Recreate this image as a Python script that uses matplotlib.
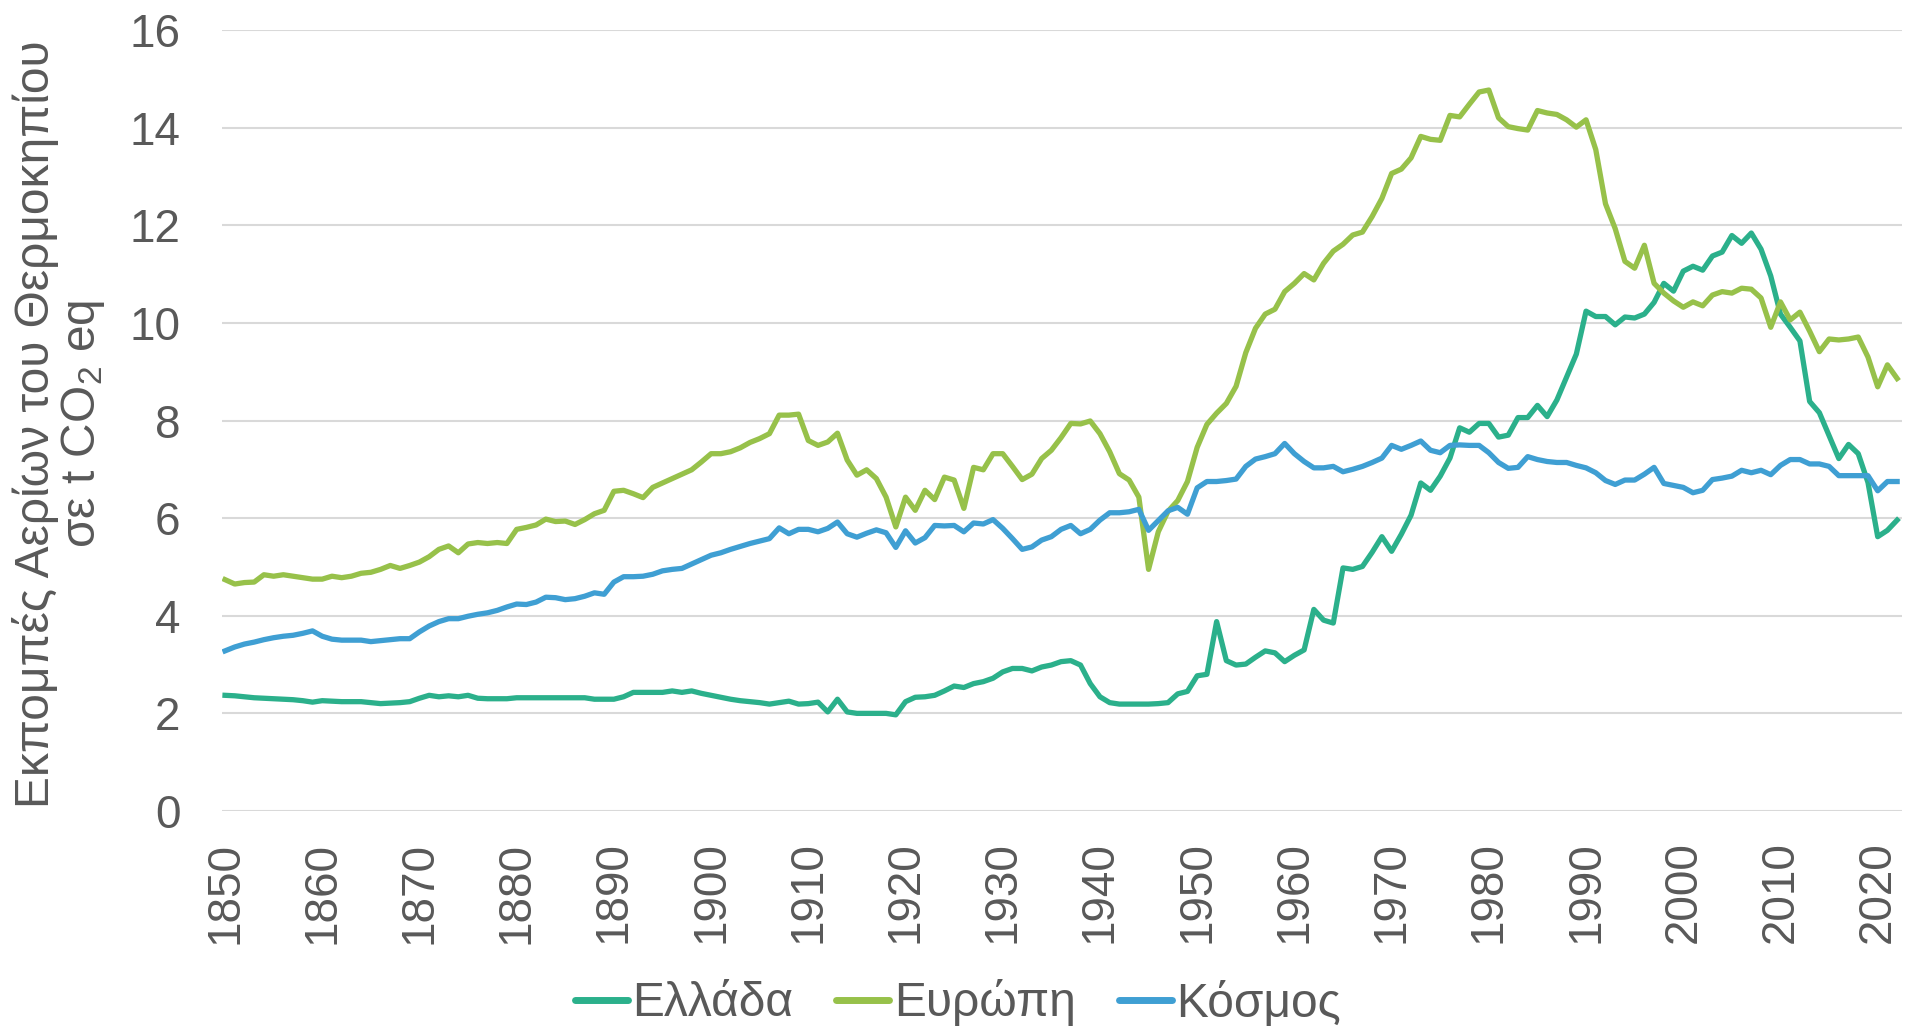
import matplotlib
matplotlib.use("Agg")
import matplotlib.pyplot as plt
import matplotlib.font_manager as fm
import numpy as np

### data (t CO2 eq per capita)
years = np.arange(1850, 2023)

greece = [
    2.37, 2.36, 2.34, 2.32, 2.31, 2.30, 2.29, 2.28, 2.26, 2.23,
    2.26, 2.25, 2.24, 2.24, 2.24, 2.22, 2.20, 2.21, 2.22, 2.24,
    2.31, 2.37, 2.34, 2.36, 2.34, 2.37, 2.31, 2.30, 2.30, 2.30,
    2.32, 2.32, 2.32, 2.32, 2.32, 2.32, 2.32, 2.32, 2.29, 2.29,
    2.29, 2.34, 2.43, 2.43, 2.43, 2.43, 2.46, 2.43, 2.46, 2.41,
    2.37, 2.33, 2.29, 2.26, 2.24, 2.22, 2.19, 2.22, 2.25, 2.19,
    2.20, 2.23, 2.03, 2.29, 2.03, 2.00, 2.00, 2.00, 2.00, 1.97,
    2.24, 2.33, 2.34, 2.37, 2.46, 2.56, 2.53, 2.61, 2.65, 2.72,
    2.85, 2.92, 2.92, 2.87, 2.95, 2.99, 3.06, 3.08, 2.99, 2.61,
    2.34, 2.22, 2.19, 2.19, 2.19, 2.19, 2.20, 2.22, 2.40, 2.45,
    2.77, 2.80, 3.88, 3.08, 2.99, 3.01, 3.15, 3.28, 3.24, 3.06,
    3.19, 3.30, 4.13, 3.91, 3.85, 4.98, 4.95, 5.01, 5.30, 5.62,
    5.32, 5.67, 6.06, 6.72, 6.57, 6.86, 7.23, 7.85, 7.76, 7.94,
    7.94, 7.66, 7.70, 8.06, 8.06, 8.31, 8.08, 8.42, 8.89, 9.36,
    10.24, 10.13, 10.13, 9.96, 10.12, 10.10, 10.18, 10.42, 10.81, 10.65,
    11.06, 11.16, 11.08, 11.37, 11.45, 11.79, 11.63, 11.84, 11.51, 10.96,
    10.18, 9.91, 9.63, 8.39, 8.16, 7.69, 7.22, 7.51, 7.32, 6.73,
    5.62, 5.75, 5.96,
]

europe = [
    4.74, 4.65, 4.68, 4.69, 4.84, 4.81, 4.84, 4.81, 4.78, 4.75,
    4.75, 4.81, 4.78, 4.81, 4.87, 4.89, 4.95, 5.03, 4.97, 5.03,
    5.10, 5.21, 5.36, 5.43, 5.29, 5.47, 5.50, 5.48, 5.50, 5.48,
    5.77, 5.81, 5.86, 5.98, 5.93, 5.94, 5.87, 5.97, 6.09, 6.16,
    6.55, 6.57, 6.50, 6.42, 6.63, 6.72, 6.81, 6.90, 6.99, 7.15,
    7.32, 7.32, 7.36, 7.44, 7.55, 7.63, 7.73, 8.11, 8.11, 8.13,
    7.59, 7.49, 7.56, 7.74, 7.19, 6.88, 6.99, 6.81, 6.43, 5.82,
    6.43, 6.16, 6.57, 6.38, 6.84, 6.78, 6.20, 7.04, 6.99, 7.32,
    7.32, 7.06, 6.79, 6.90, 7.22, 7.39, 7.65, 7.94, 7.93, 7.99,
    7.73, 7.36, 6.91, 6.78, 6.43, 4.95, 5.72, 6.14, 6.36, 6.75,
    7.45, 7.92, 8.15, 8.35, 8.70, 9.39, 9.89, 10.18, 10.28, 10.64,
    10.81, 11.01, 10.88, 11.22, 11.47, 11.61, 11.80, 11.86, 12.18, 12.55,
    13.06, 13.15, 13.38, 13.82, 13.76, 13.74, 14.25, 14.22, 14.48, 14.73,
    14.77, 14.20, 14.02, 13.98, 13.95, 14.35, 14.30, 14.27, 14.16, 14.01,
    14.16, 13.55, 12.44, 11.93, 11.26, 11.12, 11.59, 10.81, 10.61, 10.45,
    10.32, 10.43, 10.35, 10.57, 10.64, 10.61, 10.71, 10.69, 10.51, 9.91,
    10.43, 10.06, 10.22, 9.83, 9.41, 9.67, 9.65, 9.67, 9.71, 9.30,
    8.69, 9.14, 8.86,
]

world = [
    3.28, 3.36, 3.42, 3.46, 3.51, 3.55, 3.58, 3.60, 3.64, 3.69,
    3.58, 3.52, 3.50, 3.50, 3.50, 3.47, 3.49, 3.51, 3.53, 3.53,
    3.67, 3.79, 3.88, 3.94, 3.94, 3.99, 4.03, 4.06, 4.11, 4.18,
    4.24, 4.23, 4.28, 4.38, 4.37, 4.33, 4.35, 4.40, 4.47, 4.44,
    4.69, 4.80, 4.80, 4.81, 4.85, 4.92, 4.95, 4.97, 5.06, 5.15,
    5.24, 5.29, 5.36, 5.42, 5.48, 5.53, 5.58, 5.80, 5.68, 5.77,
    5.77, 5.72, 5.79, 5.92, 5.68, 5.61, 5.69, 5.76, 5.70, 5.40,
    5.74, 5.49, 5.60, 5.85, 5.84, 5.85, 5.72, 5.90, 5.88, 5.97,
    5.79, 5.58, 5.36, 5.41, 5.55, 5.62, 5.77, 5.85, 5.68, 5.77,
    5.96, 6.11, 6.11, 6.13, 6.18, 5.75, 5.95, 6.15, 6.22, 6.08,
    6.62, 6.75, 6.75, 6.77, 6.80, 7.06, 7.21, 7.26, 7.32, 7.53,
    7.32, 7.16, 7.03, 7.03, 7.06, 6.95, 7.00, 7.06, 7.14, 7.23,
    7.49, 7.41, 7.49, 7.58, 7.39, 7.34, 7.49, 7.50, 7.49, 7.49,
    7.34, 7.14, 7.02, 7.04, 7.26, 7.20, 7.16, 7.14, 7.14, 7.08,
    7.03, 6.93, 6.77, 6.69, 6.78, 6.78, 6.90, 7.04, 6.71, 6.67,
    6.63, 6.52, 6.57, 6.79, 6.82, 6.86, 6.98, 6.93, 6.98, 6.89,
    7.08, 7.20, 7.20, 7.11, 7.11, 7.06, 6.87, 6.87, 6.87, 6.87,
    6.56, 6.75, 6.75,
]

labels = ["Ελλάδα", "Ευρώπη", "Κόσμος"]
colors = ["#2BB08B", "#97C14A", "#3F9FD3"]
ylabel = "Εκπομπές Αερίων του Θερμοκηπίου\nσε t CO$_2$ eq"

### fonts
names = {f.name for f in fm.fontManager.ttflist}
narrow = "Liberation Sans Narrow" if "Liberation Sans Narrow" in names else "Liberation Sans"
txt_clr = "#595959"
plt.rcParams["font.family"] = ["Liberation Sans", "DejaVu Sans"]
plt.rcParams["mathtext.fontset"] = "custom"
plt.rcParams["mathtext.rm"] = narrow
plt.rcParams["mathtext.it"] = narrow

### figure
W, H = 1913, 1027
fig = plt.figure(figsize=(W / 100, H / 100), dpi=100)
ax = fig.add_axes([222 / W, 1 - 811 / H, 1680 / W, (811 - 30) / H])

for vals, lab, clr in zip([greece, europe, world], labels, colors):
    ax.plot(years, vals, color=clr, lw=3.8, label=lab, solid_joinstyle="round")

ax.set_xlim(1849.69, 2022.5)
ax.set_ylim(0, 16)
ax.set_yticks(range(0, 17, 2))
ax.set_xticks(range(1850, 2021, 10))
ax.grid(axis="y", color="#D9D9D9", lw=1.5)
ax.set_axisbelow(True)
for s in ax.spines.values():
    s.set_visible(False)
ax.tick_params(axis="both", length=0, labelsize=33, labelcolor=txt_clr)
ax.tick_params(axis="y", pad=30)
ax.tick_params(axis="x", pad=22, labelrotation=90)

fig.text(60 / W, 1 - 424 / H, ylabel, rotation=90, ha="center", va="center",
         multialignment="center", fontsize=34.5, color=txt_clr, family=[narrow, "DejaVu Sans"],
         linespacing=1.0)

leg = fig.legend(loc="center", bbox_to_anchor=(958 / W, 1 - 1003 / H), ncol=3,
                 frameon=False, handlelength=1.1, handletextpad=0.1, columnspacing=0.9,
                 prop={"family": [narrow, "DejaVu Sans"], "size": 34.5})
for t in leg.get_texts():
    t.set_color(txt_clr)
for l in leg.get_lines():
    l.set_linewidth(5)
    l.set_solid_capstyle("round")

fig.savefig("out.png", dpi=100)
